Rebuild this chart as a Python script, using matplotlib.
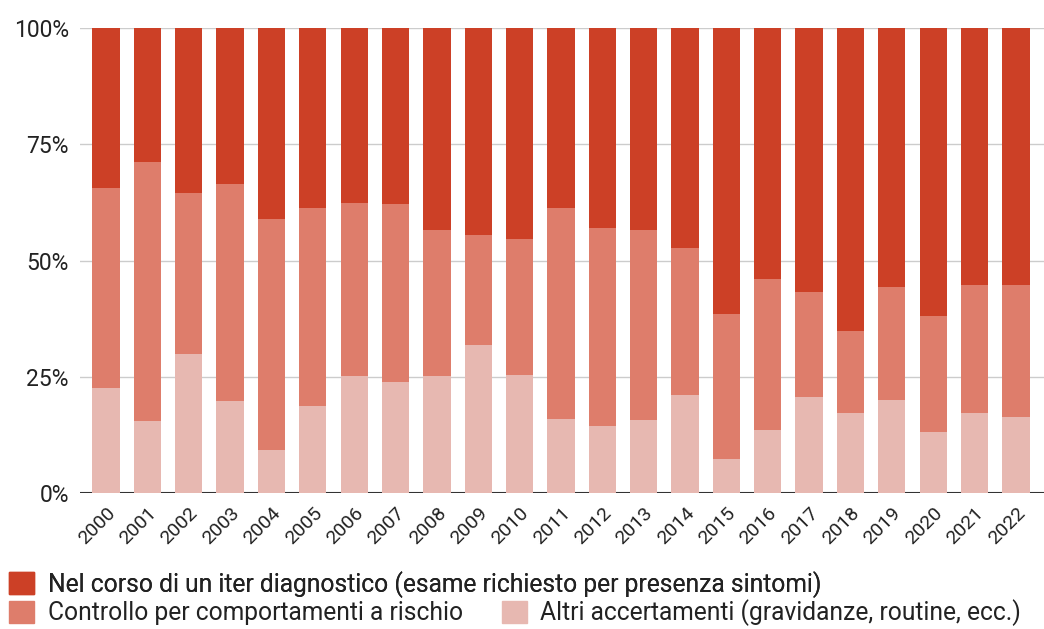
import matplotlib.pyplot as plt
from matplotlib.patches import Patch
from matplotlib.ticker import PercentFormatter

plt.rcParams['font.family'] = ['Roboto', 'DejaVu Sans']

anni = [str(a) for a in range(2000, 2023)]

# quote in percentuale (somma = 100 per ogni anno)
altri = [22.6, 15.5, 29.9, 19.8, 9.2, 18.7, 25.2, 23.9, 25.2, 31.8, 25.4, 15.9,
         14.4, 15.7, 21.1, 7.3, 13.5, 20.6, 17.2, 20.0, 13.1, 17.2, 16.3]
controllo = [43.0, 55.7, 34.6, 46.7, 49.7, 42.6, 37.2, 38.3, 31.4, 23.7, 29.2, 45.4,
             42.6, 40.9, 31.6, 31.2, 32.5, 22.6, 17.6, 24.3, 25.0, 27.5, 28.4]
iter_diag = [100 - a - c for a, c in zip(altri, controllo)]

etichette = ["Nel corso di un iter diagnostico (esame richiesto per presenza sintomi)",
             "Controllo per comportamenti a rischio",
             "Altri accertamenti (gravidanze, routine, ecc.)"]
colori = ["#CC4026", "#DE7D6B", "#E7B8B1"]

fig = plt.figure(figsize=(10.44, 6.29), dpi=100)
ax = fig.add_axes([0.0766, 0.216, 0.9234, 0.7395])

x = range(len(anni))
w = 0.66
ax.bar(x, altri, w, color=colori[2], zorder=3)
ax.bar(x, controllo, w, bottom=altri, color=colori[1], zorder=3)
ax.bar(x, iter_diag, w, bottom=[a + c for a, c in zip(altri, controllo)],
       color=colori[0], zorder=3)

ax.set_xlim(-0.63, 22.68)
ax.set_ylim(0, 100)
ax.set_yticks([0, 25, 50, 75, 100])
ax.yaxis.set_major_formatter(PercentFormatter(decimals=0))
ax.grid(axis='y', color='#CCCCCC', linewidth=1, zorder=0)
ax.axhline(0, color='#333333', linewidth=1.5, zorder=2)

ax.set_xticks(list(x))
ax.set_xticklabels(anni, rotation=45, ha='right', rotation_mode='anchor', fontsize=14, color='#222222')
ax.tick_params(axis='y', labelsize=16.5, colors='#222222', length=0, pad=8)
ax.tick_params(axis='x', length=0, pad=8)
for s in ax.spines.values():
    s.set_visible(False)

h = [Patch(color=c) for c in colori]
leg1 = fig.legend([h[0]], [etichette[0]], loc='center left', bbox_to_anchor=(0.009, 0.071),
                  frameon=False, fontsize=17.7, handlelength=1.0, handleheight=1.0,
                  handletextpad=0.55, borderaxespad=0, borderpad=0, labelcolor='#222222')
leg2 = fig.legend(h[1:], etichette[1:], loc='center left', bbox_to_anchor=(0.009, 0.026),
                  frameon=False, fontsize=17.7, handlelength=1.0, handleheight=1.0,
                  handletextpad=0.55, ncol=2, columnspacing=1.6, borderaxespad=0, borderpad=0,
                  labelcolor='#222222')
fig.add_artist(leg1)

fig.savefig("out.png", dpi=100)
